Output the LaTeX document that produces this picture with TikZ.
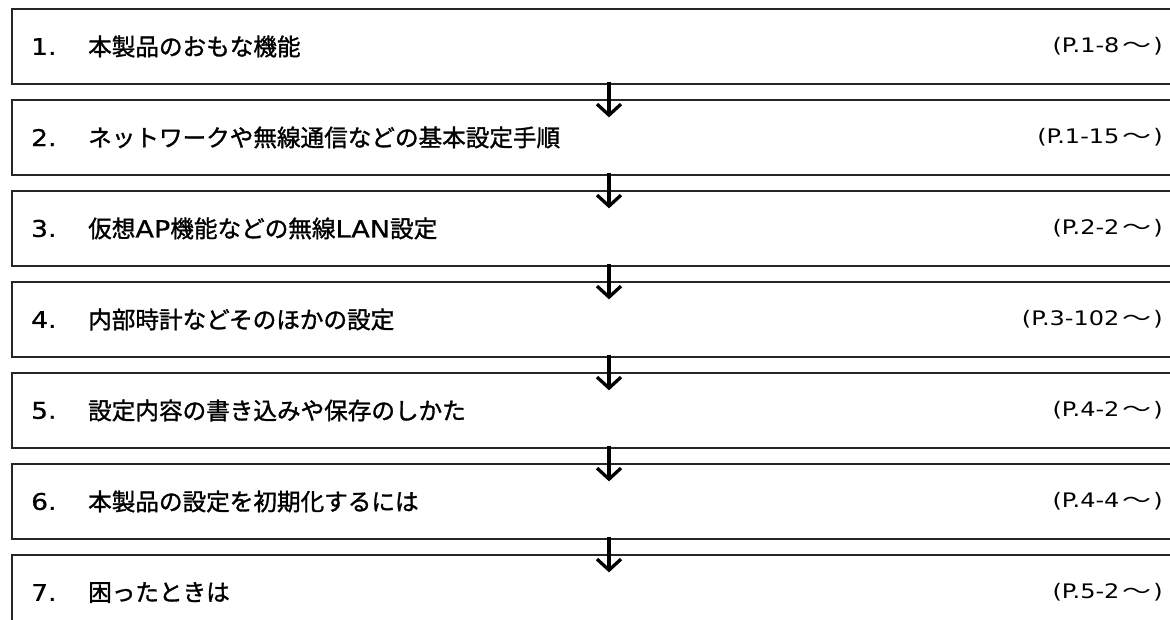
\documentclass[tikz,border=0pt]{standalone}
\usepackage{fontspec}
\setmainfont{Noto Sans CJK JP}
\newfontfamily\jpm{Noto Sans CJK JP}[FakeBold=1.3]
\newfontfamily\jpr{Noto Sans CJK JP}
\newfontfamily\latm{DejaVu Sans}[FakeBold=0.7,FakeStretch=1.15]
\newfontfamily\latr{DejaVu Sans}[FakeStretch=1.2]
\newcommand\lat[1]{{\latm #1}}
\newcommand\pgnum[1]{{\latr (P.#1}\hspace{3pt}\scalebox{1.45}[1]{\jpr 〜}\hspace{2pt}{\latr )}}
\usetikzlibrary{arrows.meta,calc}
\tikzset{
  stepbox/.style={draw=black!85, line width=1.3pt, rectangle, minimum width=1178pt, minimum height=75pt, inner sep=0pt},
  numtxt/.style={anchor=west, inner sep=0pt, font=\latm\fontsize{23}{26}\selectfont},
  titletxt/.style={anchor=west, inner sep=0pt, font=\jpm\fontsize{23.6}{26}\selectfont},
  pagetxt/.style={anchor=east, inner sep=0pt, font=\fontsize{20}{24}\selectfont},
  flowarrow/.style={line width=3.5pt, -{Straight Barb[length=11pt,width=24pt,line width=3.3pt]}}
}
\begin{document}
\begin{tikzpicture}[x=1pt,y=-1pt]
\useasboundingbox (0,0) rectangle (1170,620);
\begin{scope}
\clip (0,0) rectangle (1170,620);
\foreach \i/\title/\page in {
  1/本製品のおもな機能/1-8,
  2/ネットワークや無線通信などの基本設定手順/1-15,
  3/仮想\lat{AP}機能などの無線\lat{LAN}設定/2-2,
  4/内部時計などそのほかの設定/3-102,
  5/設定内容の書き込みや保存のしかた/4-2,
  6/本製品の設定を初期化するには/4-4,
  7/困ったときは/5-2}{
  \pgfmathsetmacro{\cy}{46.5+(\i-1)*91}
  \node[stepbox] (b\i) at (601,\cy) {};
  \node[numtxt] (n\i) at (31,\cy) {\i.};
  \node[titletxt] (t\i) at (88,\cy) {\title};
  \node[pagetxt] (p\i) at (1163,\cy) {\pgnum{\page}};
}
\coordinate (ax) at (609,0);
\foreach \i [evaluate=\i as \j using int(\i+1)] in {1,...,6}{
  \draw[flowarrow] ($(b\i.south -| ax)+(0,-3)$) -- ($(b\j.north -| ax)+(0,18)$);
}
\end{scope}
\end{tikzpicture}
\end{document}
